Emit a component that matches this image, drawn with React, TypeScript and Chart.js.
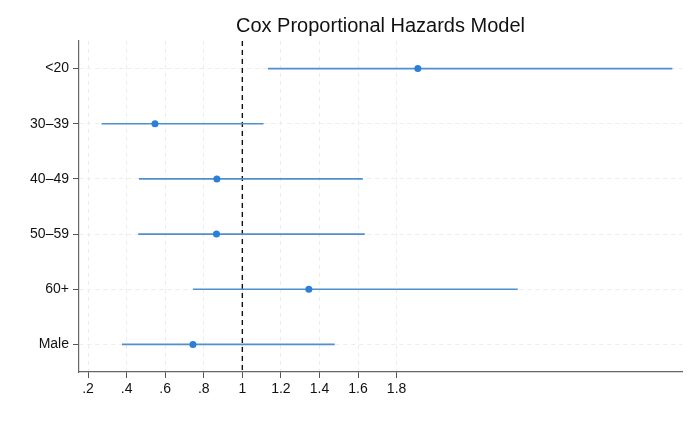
import React, { useEffect, useRef } from "react";
import { Chart, registerables } from "chart.js";

Chart.register(...registerables);

const categories = ["<20", "30–39", "40–49", "50–59", "60+", "Male"];
const hazardRatio = [1.91, 0.547, 0.868, 0.866, 1.345, 0.744];
const ciLower = [1.133, 0.27, 0.464, 0.46, 0.744, 0.376];
const ciUpper = [3.23, 1.11, 1.625, 1.635, 2.428, 1.479];
const xTickValues = [0.2, 0.4, 0.6, 0.8, 1, 1.2, 1.4, 1.6, 1.8];
const xTickLabels = [".2", ".4", ".6", ".8", "1", "1.2", "1.4", "1.6", "1.8"];
const referenceValue = 1;
const xMin = 0.153;
const xMax = 3.28;
const titleText = "Cox Proportional Hazards Model";

export default function App() {
  const canvasRef = useRef<HTMLCanvasElement | null>(null);

  useEffect(() => {
    const canvas = canvasRef.current;
    if (!canvas) return;
    const yMin = -0.5;
    const yMax = categories.length - 0.5;
    const lineColor = "#4f8fcc";
    const pointColor = "#2b7fd8";

    const ciDatasets = categories.map((c, i) => ({
      type: "line" as const,
      label: c + " CI",
      data: [
        { x: ciLower[i], y: i },
        { x: ciUpper[i], y: i },
      ],
      borderColor: lineColor,
      borderWidth: 1.6,
      pointRadius: 0,
      showLine: true,
      order: 2,
    }));

    const chart = new Chart(canvas, {
      type: "scatter",
      data: {
        datasets: [
          {
            type: "line" as const,
            label: "ref",
            data: [
              { x: referenceValue, y: yMin },
              { x: referenceValue, y: yMax },
            ],
            borderColor: "#111",
            borderWidth: 1.4,
            borderDash: [5, 4],
            pointRadius: 0,
            showLine: true,
            order: 3,
          },
          ...ciDatasets,
          {
            type: "scatter" as const,
            label: "HR",
            data: categories.map((c, i) => ({ x: hazardRatio[i], y: i })),
            backgroundColor: pointColor,
            borderColor: pointColor,
            pointRadius: 3.5,
            borderWidth: 0,
            order: 1,
          },
        ] as any,
      },
      options: {
        animation: false,
        responsive: false,
        maintainAspectRatio: false,
        layout: { padding: { left: 0, right: 18, top: 0, bottom: 0 } },
        plugins: {
          legend: { display: false },
          tooltip: { enabled: false },
          title: {
            display: true,
            text: titleText,
            fullSize: false,
            color: "#111",
            font: { family: "'Liberation Sans', Arial, sans-serif", size: 20, weight: "normal" },
            padding: { top: 14, bottom: 3 },
          },
        },
        scales: {
          x: {
            type: "linear",
            min: xMin,
            max: xMax,
            afterBuildTicks: (scale: any) => {
              scale.ticks = xTickValues.map((v) => ({ value: v }));
            },
            afterFit: (scale: any) => {
              scale.height = 50;
            },
            ticks: {
              autoSkip: false,
              maxRotation: 0,
              padding: 3,
              color: "#111",
              font: { family: "'Liberation Sans', Arial, sans-serif", size: 14 },
              callback: (value: any) => {
                const idx = xTickValues.findIndex((v) => Math.abs(v - Number(value)) < 1e-9);
                return idx >= 0 ? xTickLabels[idx] : "";
              },
            },
            grid: {
              color: "#ececec",
              lineWidth: 1,
              tickColor: "#555",
              tickLength: 6,
              drawTicks: true,
            },
            border: { display: true, color: "#666", width: 1.2, dash: [4, 4] },
          },
          y: {
            type: "linear",
            min: yMin,
            max: yMax,
            reverse: true,
            afterBuildTicks: (scale: any) => {
              scale.ticks = categories.map((c, i) => ({ value: i }));
            },
            afterFit: (scale: any) => {
              scale.width = 79;
            },
            ticks: {
              autoSkip: false,
              padding: 4,
              color: "#111",
              font: { family: "'Liberation Sans', Arial, sans-serif", size: 14 },
              callback: (value: any) => {
                const i = Math.round(Number(value));
                return categories[i] ?? "";
              },
            },
            grid: {
              color: "#ececec",
              lineWidth: 1,
              tickColor: "#555",
              tickLength: 6,
              drawTicks: true,
            },
            border: { display: true, color: "#666", width: 1.2, dash: [4, 4] },
          },
        },
      } as any,
    });

    return () => {
      chart.destroy();
    };
  }, []);

  return (
    <div style={{ position: "fixed", left: 0, top: 0, width: 700, height: 422, background: "#fff" }}>
      <canvas ref={canvasRef} width={700} height={422} style={{ width: 700, height: 422 }} />
    </div>
  );
}
